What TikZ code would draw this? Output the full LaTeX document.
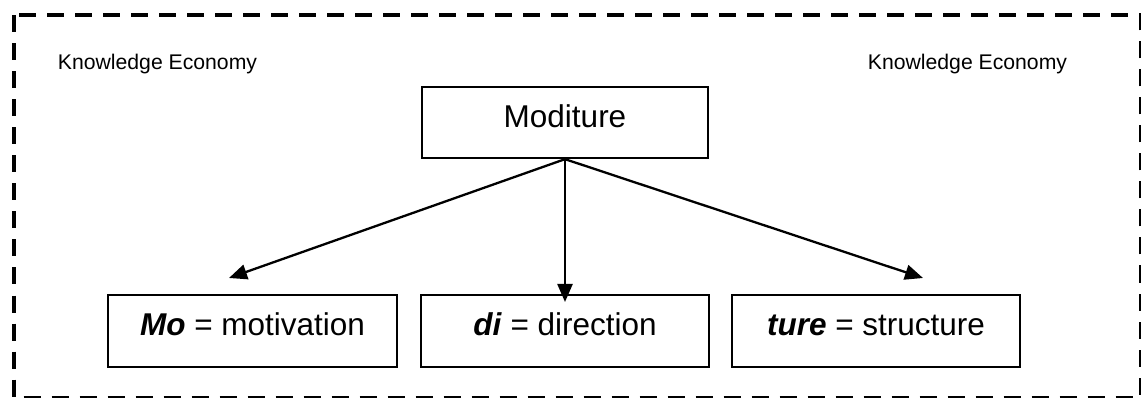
\documentclass[tikz,border=0pt]{standalone}
\usepackage{fontspec}
\setmainfont{Liberation Sans}
\usetikzlibrary{arrows.meta}

\begin{document}
\begin{tikzpicture}[x=1pt,y=-1pt,
  box/.style={draw, line width=2.3pt, minimum width=288pt, minimum height=72pt,
    inner sep=0pt, font=\fontsize{31.5}{36}\selectfont,
    text height=22pt, text depth=14pt},
  link/.style={line width=2.3pt, -{Triangle[length=18pt,width=15pt]}},
  frameline/.style={line width=4pt, dash pattern=on 17pt off 11pt},
  caption/.style={font=\fontsize{21.2}{24}\selectfont, anchor=base}
]
\useasboundingbox (0,0) rectangle (1141,398);

% dashed outer frame
\draw[frameline] (13.5,15.5) rectangle (1140.5,397.5);

% corner labels
\node[caption] (keL) at (157.5,70) {Knowledge Economy};
\node[caption] (keR) at (967.5,70) {Knowledge Economy};

% main box
\node[box, minimum width=286pt, minimum height=71pt,
      text height=23pt, text depth=12pt] (top) at (565,122.5) {Moditure};

% the three components
\node[box, minimum width=289pt] (mo) at (252.5,331) {\textbf{\textit{Mo}} = motivation};
\node[box] (di) at (565,331) {\textbf{\textit{di}} = direction};
\node[box] (ture) at (876,331) {\textbf{\textit{ture}} = structure};

% arrow ends
\coordinate (tipL) at (229,278);
\coordinate (tipM) at (565,302);
\coordinate (tipR) at (923,278);

\draw[link] (top.south) -- (tipL);
\draw[link] (top.south) -- (tipM);
\draw[link] (top.south) -- (tipR);
\end{tikzpicture}
\end{document}
